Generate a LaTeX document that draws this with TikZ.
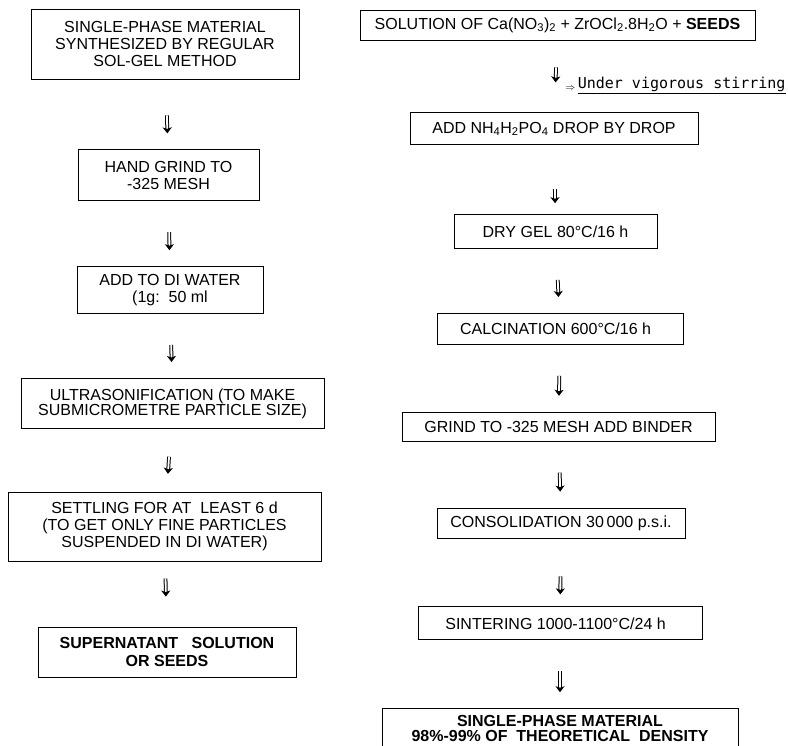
\documentclass[tikz,border=0pt]{standalone}
\usepackage{fontspec}
\setmainfont{Liberation Sans}
\newfontfamily\stirfont{DejaVu Sans Mono}
\usepackage{tikz}
\usetikzlibrary{arrows.meta,positioning}

\begin{document}
\begin{tikzpicture}[
    x=1pt, y=1pt,
    node distance=66pt,
    block/.style={draw, line width=0.8pt, align=center, inner sep=0pt, font=\fontsize{16}{17}\selectfont},
    arrow/.style={double, double distance=1.8pt, line width=1pt, -{Stealth[length=6pt, width=9pt, inset=1.5pt]}, shorten <=31pt, shorten >=16pt}
]
    \useasboundingbox (0,0) rectangle (788,-746);

    \node (l1) [block, minimum width=268pt, minimum height=70pt] at (165,-44) {SINGLE-PHASE MATERIAL\\SYNTHESIZED BY REGULAR\\SOL-GEL METHOD};
    \node (l2) [block, minimum width=181pt, minimum height=51pt, below=70pt of l1, xshift=3.5pt] {HAND GRIND TO\\-325 MESH};
    \node (l3) [block, minimum width=186pt, minimum height=47pt, below=65pt of l2, xshift=1.5pt] {ADD TO DI WATER\\(1g:\ \ 50 ml};
    \node (l4) [block, minimum width=303pt, minimum height=50pt, below=64pt of l3, xshift=2.5pt, font=\fontsize{16}{15}\selectfont] {ULTRASONIFICATION (TO MAKE\\SUBMICROMETRE PARTICLE SIZE)};
    \node (l5) [block, minimum width=313pt, minimum height=69pt, below=63pt of l4, xshift=-8pt] {SETTLING FOR AT\ \ LEAST 6 d\\(TO GET ONLY FINE PARTICLES\\SUSPENDED IN DI WATER)};
    \node (l6) [block, minimum width=258pt, minimum height=50pt, below=65pt of l5, xshift=2.5pt, font=\fontsize{16}{18}\bfseries] {SUPERNATANT\ \ \ SOLUTION\\OR SEEDS};

    \node (r1) [block, minimum width=395pt, minimum height=30pt] at (557.5,-25) {SOLUTION OF Ca(NO\textsubscript{3})\textsubscript{2} + ZrOCl\textsubscript{2}.8H\textsubscript{2}O + \textbf{SEEDS}};
    \node (r2) [block, minimum width=288pt, minimum height=32pt, below=72pt of r1, xshift=-3.5pt] {ADD NH\textsubscript{4}H\textsubscript{2}PO\textsubscript{4} DROP BY DROP};
    \node (r3) [block, minimum width=203pt, minimum height=34pt, below=69pt of r2, xshift=1.5pt] {DRY GEL 80°C/16 h};
    \node (r4) [block, minimum width=246pt, minimum height=31pt, below=64pt of r3, xshift=4.5pt] {CALCINATION 600°C/16 h\ \ };
    \node (r5) [block, minimum width=313pt, minimum height=29pt, below=67pt of r4, xshift=-1.5pt] {GRIND TO -325 MESH ADD BINDER};
    \node (r6) [block, minimum width=248pt, minimum height=30pt, below=of r5, xshift=2.5pt] {CONSOLIDATION 30\,000 p.s.i.};
    \node (r7) [block, minimum width=284pt, minimum height=33pt, below=68pt of r6, xshift=-1pt] {SINTERING 1000-1100°C/24 h\ \ };
    \node (r8) [block, minimum width=356pt, minimum height=49pt, text depth=9pt, below=68pt of r7, font=\fontsize{16}{15}\bfseries] {SINGLE-PHASE\ MATERIAL\\98\%-99\% OF\ \ THEORETICAL\ \ DENSITY};

    \draw [arrow, shorten <=36pt] (l1) -- (l2);
    \draw [arrow] (l2) -- (l3);
    \draw [arrow] (l3) -- (l4);
    \draw [arrow, shorten <=28pt, shorten >=18pt] (l4) -- (l5);
    \draw [arrow, shorten <=17pt, shorten >=30pt] (l5) -- (l6);

    \draw [arrow, shorten <=27pt, shorten >=30pt] (r1) -- (r2)
        node [pos=0.62, anchor=west, xshift=6pt, font=\stirfont\fontsize{15}{15}\selectfont] {\raisebox{-2pt}{\fontsize{10}{10}\selectfont$\Rightarrow$}\,\underline{Under vigorous stirring}};
    \draw [arrow, shorten <=44pt, shorten >=11pt] (r2) -- (r3);
    \draw [arrow] (r3) -- (r4);
    \draw [arrow] (r4) -- (r5);
    \draw [arrow] (r5) -- (r6);
    \draw [arrow, shorten <=38pt, shorten >=12pt] (r6) -- (r7);
    \draw [arrow] (r7) -- (r8);
\end{tikzpicture}
\end{document}
